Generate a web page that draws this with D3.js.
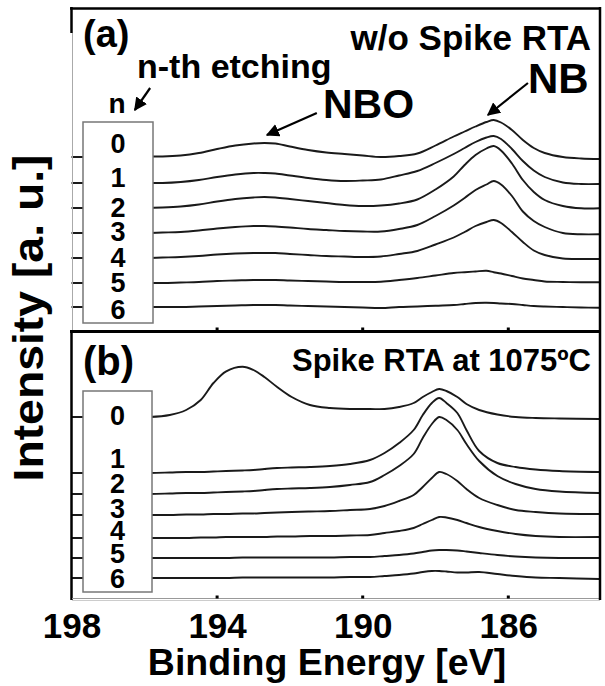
<!DOCTYPE html>
<html>
<head>
<meta charset="utf-8">
<script src="https://cdn.jsdelivr.net/npm/d3@7"></script>
<style>
  body { margin: 0; background: #fff; }
  svg { display: block; font-family: "Liberation Sans", Arial, sans-serif; font-weight: bold; }
</style>
</head>
<body>
<div id="chart"></div>
<script>
// ---- data (binding energy in eV, intensity in a.u.) ----
var xTicks = [198, 194, 190, 186];
var etchLabels = ['0', '1', '2', '3', '4', '5', '6'];

// (a) w/o spike RTA
var energyA = [198, 197, 196, 195.5, 195, 194.5, 194, 193.5, 193, 192.7, 192.4, 192, 191.5,
  191, 190.5, 190, 189.5, 189, 188.5, 188, 187.5, 187.2, 186.9, 186.6, 186.4, 186.2, 185.9,
  185.6, 185.3, 185, 184.5, 184, 183.5];
var offsetsA = [174, 148, 123, 98, 73, 48, 24];
var a0 = [0, 0, 0.5, 0.5, 1.5, 4, 8, 11.5, 13.5, 14, 13.5, 10.5, 7, 4.5, 3, 1.5, 0, 1, 3.5, 11.5, 20.5, 25.5, 30.5, 35, 37, 34.5, 27, 17, 9, 4, 0, -1.5, -2];
var a1 = [0, 0, 0, 0, 1, 3, 6, 8.5, 10, 10, 9.5, 7.5, 5, 3, 2, 2.5, 3.5, 7.5, 12, 20, 29, 35, 41, 45.5, 47, 44, 34, 22, 12.5, 6, 0.5, -1, -1];
var a2 = [0, 0, 0, 0.5, 1.5, 3.5, 6.5, 9, 10.5, 11, 10.5, 9, 7, 5, 3, 2, 2.5, 4.5, 8.5, 18.5, 31.5, 43, 53, 59.5, 62, 57.5, 44.5, 28, 16, 8, 2, -0.3, -0.3];
var a3 = [0, 0, 0, 0.5, 1, 2.5, 4.5, 6, 7, 7, 6.5, 5.5, 4, 3, 2, 1.5, 1.5, 4, 8, 17, 27.5, 35, 43, 48.5, 52, 48.5, 37, 21.5, 12, 6, 0, -1.3, -1.3];
var a4 = [0, 0, 0, 0.5, 1, 2, 3.5, 4.5, 5, 5, 5, 4, 3, 2, 1.5, 1, 1.5, 4, 7, 13.5, 20.5, 26, 32, 36, 38, 35, 26, 16, 7.5, 3, -0.5, -1, -1];
var a5 = [0, 0, 0, 0, 0.5, 1, 2, 2.5, 3, 3, 3, 2.5, 2, 1.5, 1, 1, 1.3, 3, 5, 7.5, 10, 10.8, 11.5, 12.2, 10.8, 9.5, 7, 4.5, 3, 1.5, 1, 0.7, 0.7];
var a6 = [0, 0, 0, 0, 0, 0.5, 1, 1.5, 2, 2, 2, 1.5, 1, 0.5, 0, -0.5, -1, 0, 0.5, 1.3, 2, 3, 4, 4.2, 4, 3.5, 3, 2, 1, 0.5, 0, -0.5, -0.7];

// (b) spike RTA at 1075 C
var energyB = [198, 196.95, 195.85, 195.3, 194.85, 194.45, 194.1, 193.75, 193.3, 193.0, 192.7,
  192.35, 191.95, 191.45, 190.9, 190.35, 189.8, 189.4, 189.0, 188.6, 188.35, 188.1, 187.9,
  187.7, 187.4, 187.15, 186.8, 186.3, 185.8, 185.25, 184.6, 183.5];
var offsetsB = [182, 126, 105, 84, 61, 41, 21];
var b0 = [0, 0, 0, 2, 7, 17, 34, 45.7, 50.3, 47, 40, 30, 20, 12, 9, 8, 8, 8, 10, 14, 20, 25, 28, 26, 20, 13, 7, 2.5, 0, -1, -1.5, -2];
var b1 = [0, 0, 0, 0.5, 1, 1, 1.5, 2, 2.5, 3, 4, 5, 5.5, 6, 7, 9, 13, 20, 30, 43, 58, 70, 75, 70, 60, 43, 22, 10, 6, 3.5, 2, 1];
var b2 = [0, 0, 0, 0.5, 1, 1, 1.5, 2, 2.5, 3, 4, 5, 5.5, 6, 7, 9, 12, 19, 28, 40, 56, 70, 77, 74, 64, 50, 33, 18, 10, 5, 2.5, 1];
var b3 = [0, 0, 0, 0, 0.5, 0.5, 1, 1, 1.5, 1.5, 2, 2.5, 3, 3.5, 4, 5, 6, 9, 14, 20, 28, 37, 43, 41, 34, 26, 17, 10, 5, 3, 1.5, 1];
var b4 = [0, 0, 0, 0, 0, 0.5, 0.5, 1, 1, 1, 1, 1.5, 1.5, 2, 2, 2.5, 3, 5, 7, 10, 14, 18, 21, 20.5, 18, 15, 11, 7, 4, 2, 1, 1];
var b5 = [0, 0, 0, 0, 0, 0, 0, 0, 0.5, 0.5, 0.5, 0.5, 0.5, 0.5, 0.5, 1, 1, 2, 3, 4.5, 6, 7.5, 8, 8, 7.5, 6.5, 5, 3, 1.5, 0.5, 0, 0];
var b6 = [0, 0, 0, 0, 0, 0, 0, 0, 0.5, 0.5, 0.5, 0.5, 0.5, 0.5, 0.5, 1, 1, 2, 3, 4.5, 6, 7, 7, 6.5, 5.5, 5.5, 6, 4, 2, 0.5, 0, -1];

var seriesA = [a0, a1, a2, a3, a4, a5, a6];
var seriesB = [b0, b1, b2, b3, b4, b5, b6];

// ---- layout ----
var W = 605, H = 686;
var left = 71.5, right = 599.3;
var svg = d3.select('#chart').append('svg').attr('width', W).attr('height', H);

var x = d3.scaleLinear().domain([198, 183.5]).range([left, right]);
var yA = d3.scaleLinear().domain([0, 324]).range([331, 7]);
var yB = d3.scaleLinear().domain([0, 268]).range([599, 331]);

// legend label centres (px) for each panel
var labelYA = [143, 177, 207, 231, 257, 282, 309];
var labelYB = [415, 458, 483, 508, 530, 553, 578];

svg.append('defs').append('marker')
  .attr('id', 'head')
  .attr('viewBox', '0 0 10 10')
  .attr('refX', 9).attr('refY', 5)
  .attr('markerWidth', 6).attr('markerHeight', 6)
  .attr('markerUnits', 'strokeWidth')
  .attr('orient', 'auto')
  .append('path').attr('d', 'M0,0 L10,5 L0,10 Z').attr('fill', '#000');

function drawPanel(energy, series, offsets, y, labelY, box) {
  var line = d3.line()
    .x(function (d) { return x(d[0]); })
    .y(function (d) { return y(d[1]); })
    .curve(d3.curveCatmullRom.alpha(0.5));

  series.forEach(function (vals, i) {
    var pts = energy.map(function (e, k) { return [e, vals[k] + offsets[i]]; });
    svg.append('path')
      .attr('d', line(pts))
      .attr('fill', 'none')
      .attr('stroke', '#1a1a1a')
      .attr('stroke-width', 1.9);
  });

  // legend box with etching number
  svg.append('rect')
    .attr('x', box[0]).attr('y', box[1])
    .attr('width', box[2]).attr('height', box[3])
    .attr('fill', '#fff').attr('stroke', '#777').attr('stroke-width', 1.5);

  svg.selectAll(null).data(etchLabels.map(function (t, i) { return [t, labelY[i]]; }))
    .enter().append('text')
    .attr('x', box[0] + box[2] / 2)
    .attr('y', function (d) { return d[1]; })
    .attr('dy', '0.36em')
    .attr('text-anchor', 'middle')
    .attr('font-size', 27)
    .text(function (d) { return d[0]; });
}

drawPanel(energyA, seriesA, offsetsA, yA, labelYA, [83, 122, 70, 201]);
drawPanel(energyB, seriesB, offsetsB, yB, labelYB, [83, 391, 69, 201]);

// ---- frames ----
// panel (a)
svg.append('line').attr('x1', 70).attr('x2', 601).attr('y1', 8.5).attr('y2', 8.5)
  .attr('stroke', '#000').attr('stroke-width', 2.5);
svg.append('line').attr('x1', 71.5).attr('x2', 71.5).attr('y1', 7).attr('y2', 33)
  .attr('stroke', '#000').attr('stroke-width', 2.5);
svg.append('line').attr('x1', 72.5).attr('x2', 72.5).attr('y1', 33).attr('y2', 330)
  .attr('stroke', '#aaa').attr('stroke-width', 1);
// panel (b)
svg.append('line').attr('x1', 70).attr('x2', 601).attr('y1', 331.5).attr('y2', 331.5)
  .attr('stroke', '#000').attr('stroke-width', 3);
svg.append('line').attr('x1', 71.5).attr('x2', 71.5).attr('y1', 330).attr('y2', 600)
  .attr('stroke', '#000').attr('stroke-width', 2.5);
svg.append('line').attr('x1', 72).attr('x2', 600).attr('y1', 598.5).attr('y2', 598.5)
  .attr('stroke', '#999').attr('stroke-width', 1);
svg.append('line').attr('x1', 72).attr('x2', 600).attr('y1', 600.5).attr('y2', 600.5)
  .attr('stroke', '#ccc').attr('stroke-width', 1);
// right edge
svg.append('line').attr('x1', 600).attr('x2', 600).attr('y1', 7).attr('y2', 600)
  .attr('stroke', '#000').attr('stroke-width', 2.5);

// tick dots at the bottom of both panels
[329, 597].forEach(function (yy) {
  svg.selectAll(null).data(xTicks.slice(1)).enter().append('rect')
    .attr('x', function (d) { return x(d) - 1.5; })
    .attr('y', yy - 1.5)
    .attr('width', 3).attr('height', 3)
    .attr('fill', '#000');
});

// ---- x axis ----
var gX = svg.append('g')
  .attr('transform', 'translate(0,599)')
  .call(d3.axisBottom(x).tickValues(xTicks).tickSize(0).tickPadding(14)
    .tickFormat(d3.format('d')));
gX.select('.domain').remove();
gX.selectAll('text')
  .attr('font-size', 35).attr('font-weight', 'bold')
  .attr('font-family', '"Liberation Sans", Arial, sans-serif')
  .attr('fill', '#000');

svg.append('text')
  .attr('x', 327).attr('y', 675)
  .attr('text-anchor', 'middle')
  .attr('font-size', 37.5)
  .text('Binding Energy [eV]');

svg.append('text')
  .attr('transform', 'translate(43,318) rotate(-90)')
  .attr('text-anchor', 'middle')
  .attr('font-size', 42)
  .attr('textLength', 327).attr('lengthAdjust', 'spacingAndGlyphs')
  .text('Intensity [a. u.]');

// ---- annotations ----
svg.append('text').attr('x', 83).attr('y', 47).attr('font-size', 38).text('(a)');
svg.append('text').attr('x', 591).attr('y', 50).attr('text-anchor', 'end')
  .attr('font-size', 35).text('w/o Spike RTA');
svg.append('text').attr('x', 137).attr('y', 78).attr('font-size', 34).text('n-th etching');
svg.append('text').attr('x', 117).attr('y', 113).attr('text-anchor', 'middle')
  .attr('font-size', 28).text('n');
svg.append('text').attr('x', 323).attr('y', 118).attr('font-size', 41).text('NBO');
svg.append('text').attr('x', 528).attr('y', 93).attr('font-size', 42).text('NB');

svg.append('text').attr('x', 83).attr('y', 375).attr('font-size', 40).text('(b)');
svg.append('text').attr('x', 591).attr('y', 371).attr('text-anchor', 'end')
  .attr('font-size', 31)
  .text('Spike RTA at 1075\u00baC');

// arrows in panel (a) data units: [E1, v1, E2 (tip), v2]
var arrows = [
  [195.84, 243, 196.26, 221],
  [191.26, 218, 192.63, 196],
  [185.46, 248, 186.56, 216]
];
svg.selectAll(null).data(arrows).enter().append('line')
  .attr('x1', function (d) { return x(d[0]); })
  .attr('y1', function (d) { return yA(d[1]); })
  .attr('x2', function (d) { return x(d[2]); })
  .attr('y2', function (d) { return yA(d[3]); })
  .attr('stroke', '#000').attr('stroke-width', 2.2)
  .attr('marker-end', 'url(#head)');
</script>
</body>
</html>
